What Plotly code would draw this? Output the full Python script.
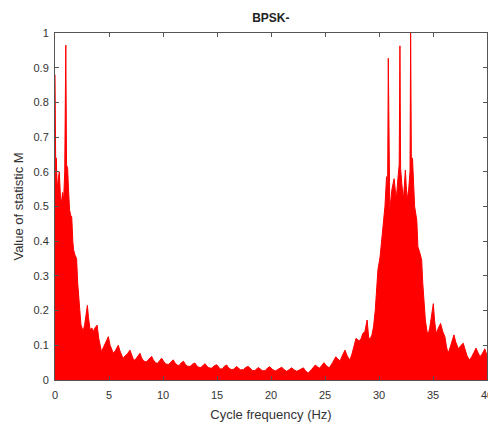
import plotly.graph_objects as go

freq_hz = [
    0.00, 0.03, 0.08, 0.12, 0.20, 0.30, 0.40, 0.50, 0.60, 0.70, 0.80, 0.90, 1.00, 1.07, 1.17, 1.25,
    1.35, 1.45, 1.55, 1.65, 1.72, 1.85, 2.00, 2.10, 2.20, 2.30, 2.40, 2.50, 2.60, 2.75, 2.90, 3.00,
    3.10, 3.25, 3.40, 3.55, 3.70, 3.90, 4.05, 4.20, 4.30, 4.50, 4.70, 4.94, 5.10, 5.25, 5.40, 5.60,
    5.86, 6.00, 6.15, 6.30, 6.50, 6.70, 6.94, 7.10, 7.25, 7.40, 7.60, 7.87, 8.00, 8.20, 8.45, 8.70,
    8.95, 9.10, 9.30, 9.50, 9.70, 9.88, 10.05, 10.25, 10.50, 10.75, 10.95, 11.10, 11.30, 11.50, 11.70,
    11.90, 12.05, 12.25, 12.50, 12.75, 12.96, 13.10, 13.30, 13.50, 13.70, 13.90, 14.05, 14.25, 14.50,
    14.75, 14.97, 15.10, 15.30, 15.50, 15.70, 15.90, 16.05, 16.30, 16.55, 16.80, 17.00, 17.20, 17.45,
    17.70, 17.90, 18.10, 18.30, 18.55, 18.80, 19.00, 19.20, 19.45, 19.70, 19.90, 20.10, 20.40, 20.70,
    21.00, 21.20, 21.45, 21.70, 21.90, 22.15, 22.40, 22.70, 23.00, 23.20, 23.45, 23.75, 24.10, 24.30,
    24.50, 24.70, 24.90, 25.15, 25.40, 25.70, 26.00, 26.20, 26.40, 26.60, 26.85, 27.05, 27.30, 27.50,
    27.70, 27.87, 28.05, 28.20, 28.35, 28.50, 28.70, 28.90, 29.05, 29.20, 29.35, 29.50, 29.65, 29.80,
    29.90, 30.10, 30.25, 30.40, 30.55, 30.70, 30.80, 30.86, 30.93, 31.00, 31.10, 31.20, 31.40, 31.50,
    31.60, 31.75, 31.87, 31.94, 32.00, 32.10, 32.25, 32.35, 32.44, 32.52, 32.60, 32.75, 32.87, 32.93,
    33.00, 33.10, 33.20, 33.30, 33.50, 33.60, 33.75, 33.95, 34.05, 34.15, 34.30, 34.45, 34.57, 34.70,
    34.85, 35.03, 35.15, 35.30, 35.50, 35.70, 35.90, 36.10, 36.25, 36.40, 36.60, 36.80, 36.94, 37.10,
    37.35, 37.60, 37.80, 37.95, 38.15, 38.36, 38.55, 38.80, 38.98, 39.15, 39.35, 39.55, 39.80, 40.00,
]

statistic_m = [
    0.88, 0.64, 0.56, 0.64, 0.55, 0.58, 0.60, 0.53, 0.51, 0.54, 0.52, 0.60, 0.965, 0.62, 0.61, 0.55,
    0.49, 0.475, 0.47, 0.40, 0.375, 0.36, 0.35, 0.28, 0.23, 0.20, 0.16, 0.15, 0.14, 0.16, 0.19, 0.215,
    0.18, 0.145, 0.15, 0.14, 0.15, 0.158, 0.12, 0.09, 0.082, 0.095, 0.11, 0.125, 0.10, 0.085, 0.077, 0.085,
    0.10, 0.085, 0.07, 0.062, 0.07, 0.075, 0.086, 0.07, 0.06, 0.057, 0.065, 0.077, 0.065, 0.055, 0.052, 0.06,
    0.068, 0.058, 0.05, 0.048, 0.056, 0.063, 0.054, 0.046, 0.045, 0.053, 0.058, 0.05, 0.043, 0.042, 0.05,
    0.054, 0.046, 0.04, 0.039, 0.046, 0.049, 0.042, 0.037, 0.036, 0.043, 0.047, 0.04, 0.035, 0.034,
    0.041, 0.044, 0.038, 0.032, 0.032, 0.04, 0.043, 0.036, 0.03, 0.031, 0.039, 0.035, 0.029, 0.03,
    0.037, 0.039, 0.032, 0.027, 0.028, 0.036, 0.032, 0.027, 0.027, 0.035, 0.038, 0.031, 0.026, 0.031,
    0.037, 0.03, 0.025, 0.03, 0.035, 0.029, 0.025, 0.03, 0.035, 0.026, 0.02, 0.03, 0.043, 0.038,
    0.034, 0.042, 0.05, 0.04, 0.035, 0.05, 0.067, 0.06, 0.055, 0.07, 0.086, 0.07, 0.057, 0.075,
    0.10, 0.12, 0.115, 0.113, 0.12, 0.134, 0.14, 0.173, 0.12, 0.12, 0.13, 0.155, 0.20, 0.28,
    0.317, 0.355, 0.40, 0.44, 0.50, 0.586, 0.55, 0.927, 0.55, 0.49, 0.52, 0.55, 0.58, 0.54,
    0.52, 0.58, 0.62, 0.963, 0.61, 0.57, 0.52, 0.56, 0.605, 0.56, 0.52, 0.55, 0.60, 1.00,
    0.62, 0.64, 0.55, 0.50, 0.46, 0.384, 0.37, 0.346, 0.28, 0.23, 0.17, 0.14, 0.134, 0.15,
    0.18, 0.22, 0.17, 0.134, 0.15, 0.163, 0.14, 0.125, 0.095, 0.077, 0.095, 0.115, 0.13, 0.11,
    0.09, 0.10, 0.106, 0.09, 0.07, 0.058, 0.065, 0.08, 0.092, 0.08, 0.067, 0.075, 0.09, 0.07,
]

x_ticks = [0, 5, 10, 15, 20, 25, 30, 35, 40]
y_ticks = [0, 0.1, 0.2, 0.3, 0.4, 0.5, 0.6, 0.7, 0.8, 0.9, 1]
y_tick_text = ["0", "0.1", "0.2", "0.3", "0.4", "0.5", "0.6", "0.7", "0.8", "0.9", "1"]

fig = go.Figure()
fig.add_trace(go.Scatter(
    x=freq_hz, y=statistic_m, mode="lines",
    line=dict(color="#ff0000", width=1),
    fill="tozeroy", fillcolor="#ff0000",
    showlegend=False, hoverinfo="skip",
))

axis_common = dict(
    showline=True, linecolor="#555555", linewidth=1, mirror="ticks",
    ticks="inside", ticklen=4, tickcolor="#555555",
    showgrid=False, zeroline=False, ticklabeloverflow="allow",
    tickfont=dict(family="Liberation Sans, Arial", size=11, color="#333333"),
)

fig.update_layout(
    width=488, height=422,
    margin=dict(l=55, r=1, t=33, b=42, autoexpand=False),
    paper_bgcolor="white", plot_bgcolor="white",
    title=dict(text="<b>BPSK-</b>", x=0.555, xanchor="center", y=0.957, yanchor="middle",
               font=dict(family="Liberation Sans, Arial", size=12, color="#222222")),
    xaxis=dict(range=[0, 40], tickvals=x_ticks, ticktext=[str(v) for v in x_ticks],
               ticklabelstandoff=5, automargin=False,
               title=dict(text="Cycle frequency (Hz)", standoff=13,
                          font=dict(family="Liberation Sans, Arial", size=13, color="#333333")),
               **axis_common),
    yaxis=dict(range=[0, 1], tickvals=y_ticks, ticktext=y_tick_text,
               ticklabelstandoff=3, automargin=False,
               title=dict(text="Value of statistic M", standoff=6,
                          font=dict(family="Liberation Sans, Arial", size=13, color="#333333")),
               **axis_common),
)

# Remove the default 8px page margin so the figure fills the window exactly.
fig.write_html("out.html",
               config={"displayModeBar": False},
               post_script="document.body.style.margin='0';document.body.style.overflow='hidden';")
